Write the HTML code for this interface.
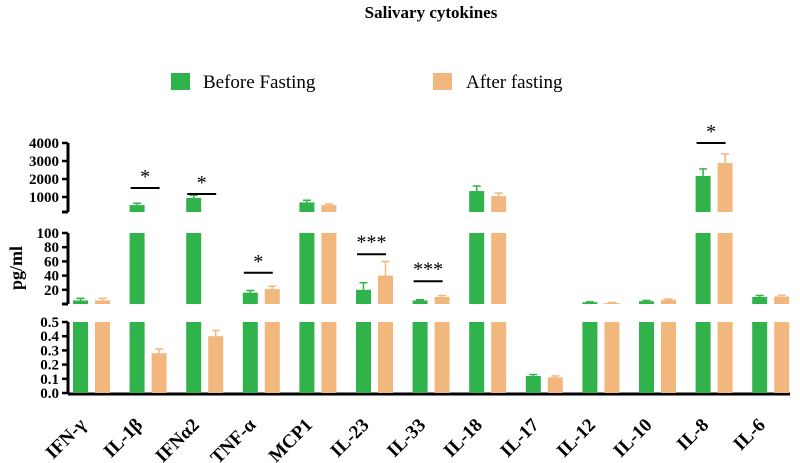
<!DOCTYPE html>
<html><head><meta charset="utf-8"><style>
html,body{margin:0;padding:0;background:#fff}
svg{display:block;font-family:"Liberation Serif",serif}
</style></head><body>
<svg id="chart" width="800" height="463" viewBox="0 0 800 463">
<text x="431" y="18" text-anchor="middle" font-size="17" font-weight="bold">Salivary cytokines</text>
<g>
<rect x="171" y="73" width="19" height="17" fill="#2fb34a"/>
<text x="203" y="88" font-size="19">Before Fasting</text>
<rect x="433" y="73" width="19" height="17" fill="#f2b77d"/>
<text x="466" y="88" font-size="19">After fasting</text>
</g>
<text transform="translate(22,268) rotate(-90)" text-anchor="middle" font-size="18" font-weight="bold">pg/ml</text>
<g id="plot"></g>
</svg>
<script>
const categories=["IFN-γ","IL-1β","IFNα2","TNF-α","MCP1","IL-23","IL-33","IL-18","IL-17","IL-12","IL-10","IL-8","IL-6"];
const beforeVals=[5,550,950,16,700,20,5,1330,0.12,2.5,4,2170,10];
const beforeErr=[3,100,150,3,120,10,1,280,0.01,0.5,1,390,2];
const afterVals=[5,0.28,0.40,21,550,40,10,1050,0.11,1.5,6,2890,10.5];
const afterErr=[3,0.03,0.04,4,60,20,2,170,0.01,0.5,1,500,2];
const topTicks=[1000,2000,3000,4000];
const midTicks=[20,40,60,80,100];
const lowTicks=[0.0,0.1,0.2,0.3,0.4,0.5];
const sigPairs=[[1,"*"],[2,"*"],[3,"*"],[5,"***"],[6,"***"],[11,"*"]];
const sigLevels=[1500,1170,44,70,32,4000];

const NS="http://www.w3.org/2000/svg";
const g=document.getElementById('plot');
function el(t,a,p){const e=document.createElementNS(NS,t);for(const k in a)e.setAttribute(k,a[k]);(p||g).appendChild(e);return e;}
const seg={
 low:{d0:0,d1:0.5,y0:393,y1:322},
 mid:{d0:0,d1:100,y0:304,y1:233},
 top:{d0:167,d1:4000,y0:212,y1:143}
};
function sy(s,v){const S=seg[s];return S.y0+(v-S.d0)*(S.y1-S.y0)/(S.d1-S.d0);}
function yOf(v){ if(v<=0.5) return sy('low',v); if(v<=100) return sy('mid',v); return sy('top',v);}
function xGreen(i){return 73+56.6*i;}
const BW=15, GAP=22;
const AX=68;
el('line',{x1:AX,y1:394,x2:790,y2:394,stroke:'#000','stroke-width':3});
for(const s of ['low','mid','top']){
 const S=seg[s];
 const l=el('line',{x1:AX,y1:S.y0,x2:AX,y2:S.y1,stroke:'#000','stroke-width':3});
 
 
}
el('line',{x1:AX-6,y1:212,x2:AX,y2:212,stroke:'#000','stroke-width':3});
el('line',{x1:AX-6,y1:304,x2:AX,y2:304,stroke:'#000','stroke-width':3});
function ticks(arr,s,fmt){
 arr.forEach(v=>{const y=sy(s,v);
  el('line',{x1:AX-6,y1:y,x2:AX,y2:y,stroke:'#000','stroke-width':2.5});
  const t=el('text',{x:AX-9,y:y+5,'text-anchor':'end','font-size':15,'font-weight':'bold'});
  t.textContent=fmt(v);
  
  
 });
}
ticks(topTicks,'top',v=>String(v));
ticks(midTicks,'mid',v=>String(v));
ticks(lowTicks,'low',v=>v.toFixed(1));
function bar(x,v,err,color,name){
 const segs=[['low',0,0.5,0],['mid',0,100,0.5],['top',167,4000,100]];
 for(const [s,a,b,enter] of segs){
  if(v<=enter) continue;
  const top=Math.min(v,b);
  const y=sy(s,top), yb=sy(s,a);
  const r=el('rect',{x:x,y:y,width:BW,height:yb-y,fill:color});
  
  
 }
 const yt=yOf(v), ye=yOf(v+err);
 el('line',{x1:x+BW/2,y1:yt,x2:x+BW/2,y2:ye,stroke:color,'stroke-width':1.5});
 el('line',{x1:x+BW/2-4,y1:ye,x2:x+BW/2+4,y2:ye,stroke:color,'stroke-width':1.5});
}
categories.forEach((c,i)=>{
 const x=xGreen(i);
 bar(x,beforeVals[i],beforeErr[i],'#2fb34a','bar-before-'+i);
 bar(x+GAP,afterVals[i],afterErr[i],'#f2b77d','bar-after-'+i);
 const t=el('text',{transform:`translate(${x+14},426) rotate(-45)`,'text-anchor':'end','font-size':19,'font-weight':'bold'});
 t.textContent=c;
 
 
});
sigPairs.forEach(([i,s],k)=>{
 const x=xGreen(i)+1, y=yOf(sigLevels[k]);
 const l=el('line',{x1:x,y1:y,x2:x+29,y2:y,stroke:'#000','stroke-width':2});
 
 
 const t=el('text',{x:x+14.5,y:y-(s.length>1?6:5),'text-anchor':'middle','font-size':20});
 t.textContent=s;
 
 
});
</script>
</body></html>
